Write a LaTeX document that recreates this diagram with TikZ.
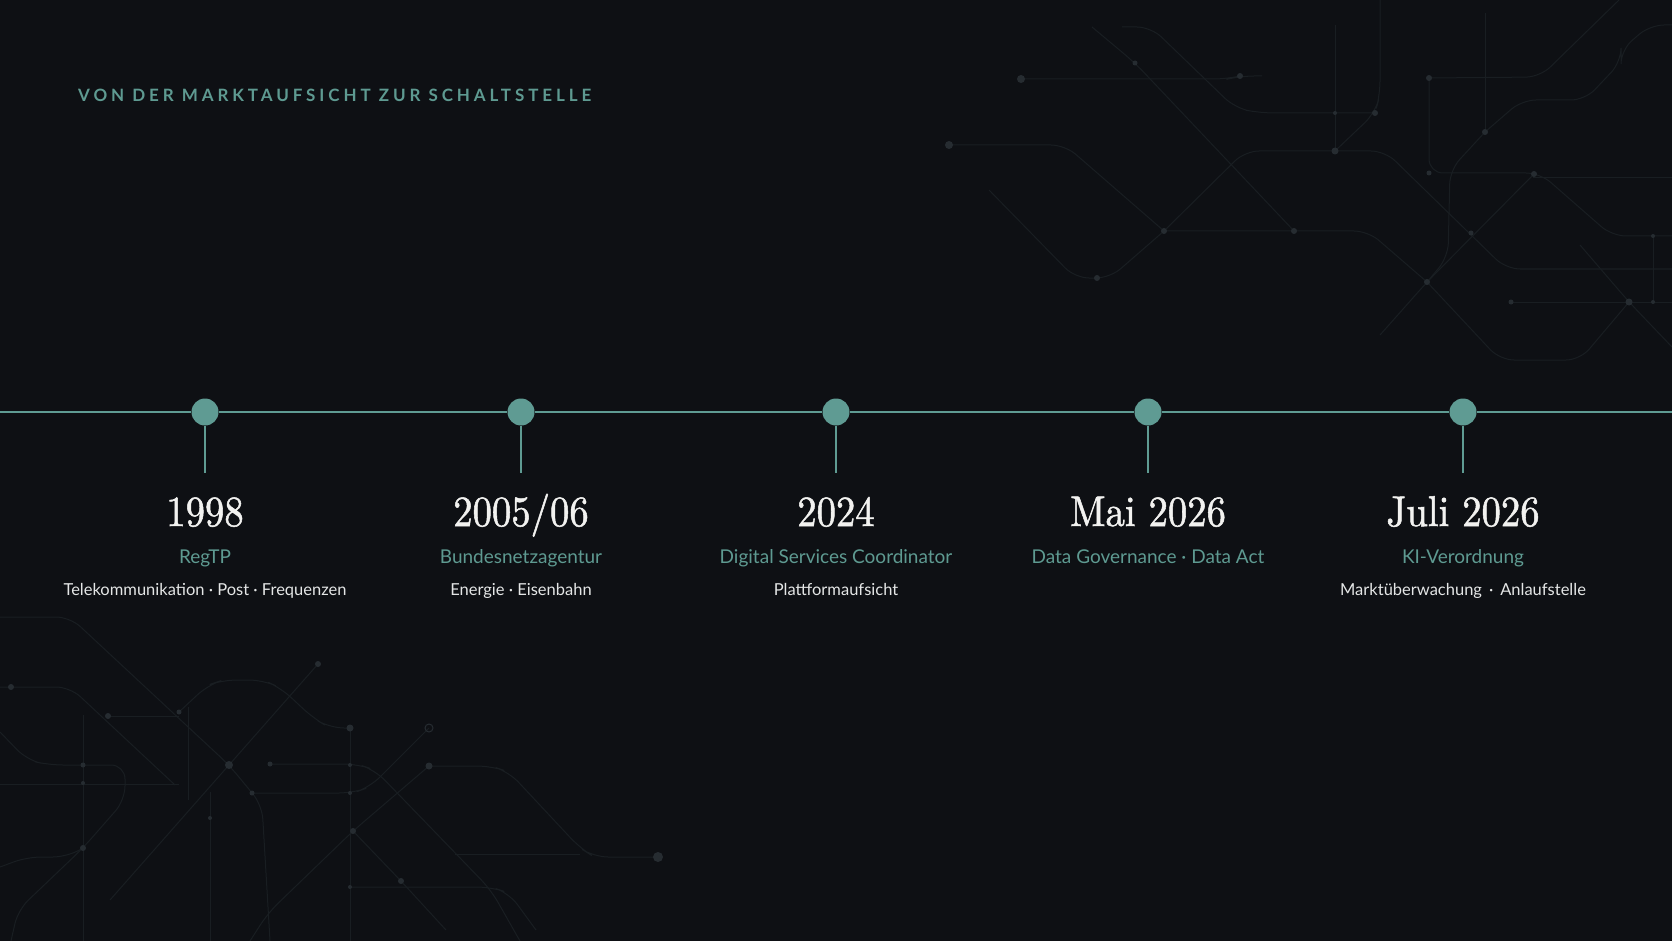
\documentclass[tikz,border=0pt]{standalone}
\usepackage{fontspec}
\newfontfamily\uisans{Lato}
\newfontfamily\titlefont[LetterSpace=23]{Lato}
\newfontfamily\yearfont[Extension=.otf,FakeStretch=0.9,FakeBold=1.2]{lmroman10-regular}
\definecolor{bg}{HTML}{0E1014}
\definecolor{tealc}{HTML}{5F9B93}
\definecolor{tealtxt}{HTML}{5E9A91}
\definecolor{yeartxt}{HTML}{F2F2F0}
\definecolor{desctxt}{HTML}{E4E6E6}
\definecolor{circl}{HTML}{191E22}
\definecolor{circd}{HTML}{262C31}
\tikzset{
  mainline/.style={draw=tealc, line width=1.6pt},
  stemline/.style={draw=tealc, line width=1.6pt},
  evdot/.style={circle, fill=tealc, minimum size=27pt, inner sep=0pt},
  yearlbl/.style={anchor=base, text=yeartxt, font=\yearfont\fontsize{43}{46}\selectfont, inner sep=0pt},
  orglbl/.style={anchor=base, text=tealtxt, font=\uisans\fontsize{19}{22}\selectfont, inner sep=0pt},
  desclbl/.style={anchor=base, text=desctxt, font=\uisans\fontsize{16.5}{19}\selectfont, inner sep=0pt},
  titlelbl/.style={anchor=base west, text=tealtxt, font=\titlefont\bfseries\fontsize{17}{20}\selectfont, inner sep=0pt},
  trace/.style={draw=circl, line width=1pt, rounded corners=14pt},
  pad/.style={circle, fill=circd, inner sep=0pt, minimum size=#1},
  pad/.default=6pt,
}
\begin{document}
\begin{tikzpicture}[x=1pt,y=-1pt]
\fill[bg] (0,0) rectangle (1672,941);
\useasboundingbox (0,0) rectangle (1672,941);

% ---- background traces top-right
\draw[trace] (1021,79) -- (1228,79) -- (1240,76) -- (1262,76);
\draw[trace] (1092,27) -- (1135,63) -- (1294,231);
\draw[trace] (1122,27) -- (1151,27) -- (1235,108) -- (1260,113) -- (1375,113);
\draw[trace] (1335,25) -- (1335,151);
\draw[trace] (1380,0) -- (1380,95) -- (1375,113) -- (1335,151);
\draw[trace] (1335,151) -- (1245,151) -- (1164,231);
\draw[trace] (949,145) -- (1065,145) -- (1164,231);
\draw[trace] (989,190) -- (1075,278) -- (1110,278) -- (1164,231);
\draw[trace] (1164,231) -- (1368,231) -- (1427,282);
\draw[trace] (1335,151) -- (1385,151) -- (1506,269) -- (1672,269);
\draw[trace] (1429,78) -- (1540,77) -- (1619,0);
\draw[trace] (1429,78) -- (1429,173) -- (1540,173) -- (1612,236) -- (1672,236);
\draw[trace] (1533,178) -- (1672,178);
\draw[trace] (1485,13) -- (1485,132);
\draw[trace] (1485,132) -- (1522,100) -- (1585,100) -- (1621,62) -- (1621,50) -- (1650,25) -- (1672,25);
\draw[trace] (1485,132) -- (1450,170) -- (1448,257) -- (1427,282);
\draw[trace] (1534,174) -- (1427,282) -- (1380,335);
\draw[trace] (1427,282) -- (1500,360) -- (1580,360) -- (1629,302);
\draw[trace] (1580,245) -- (1629,302) -- (1672,347);
\draw[trace] (1511,302) -- (1672,302);
\draw[trace] (1653,237) -- (1653,302);
\foreach \p/\s in {(1021,79)/8pt,(1240,76)/6pt,(1135,63)/5pt,(1294,231)/6pt,(1375,113)/6pt,(1335,113)/4pt,(1335,151)/7pt,(1164,231)/6pt,(949,145)/8pt,(1097,278)/6pt,(1427,282)/6pt,(1429,78)/6pt,(1429,173)/5pt,(1534,174)/6pt,(1485,132)/6pt,(1471,233)/5pt,(1629,302)/7pt,(1511,302)/5pt,(1653,302)/4pt,(1653,236)/4pt}
  \node[pad=\s] at \p {};

% ---- background traces bottom-left
\draw[trace] (0,617) -- (70,617) -- (229,765) -- (262,805) -- (270,941);
\draw[trace] (0,687) -- (70,687) -- (175,785);
\draw[trace] (108,716) -- (179,716);
\draw[trace] (0,732) -- (27,760) -- (49,765) -- (125,765) -- (125,800) -- (83,848) -- (18,910) -- (11,941);
\draw[trace] (0,867) -- (27,857) -- (67,857) -- (83,848);
\draw[trace] (83,715) -- (83,941);
\draw[trace] (0,784) -- (179,784);
\draw[trace] (188,707) -- (188,800);
\draw[trace] (179,712) -- (208,685) -- (223,680) -- (263,680) -- (281,688) -- (313,718) -- (330,728) -- (350,728);
\draw[trace] (318,664) -- (229,765) -- (110,900);
\draw[trace] (350,728) -- (350,941);
\draw[trace] (270,764) -- (357,764) -- (375,770) -- (491,890) -- (520,941);
\draw[trace] (252,793) -- (353,793) -- (370,787) -- (429,728);
\draw[trace] (429,766) -- (353,831) -- (268,913) -- (250,941);
\draw[trace] (429,766) -- (491,766) -- (509,772) -- (580,848) -- (594,857) -- (658,857);
\draw[trace] (455,854) -- (580,854);
\draw[trace] (353,831) -- (401,881) -- (446,930);
\draw[trace] (350,887) -- (491,887) -- (509,893) -- (536,930);
\draw[trace] (210,792) -- (210,941);
\foreach \p/\s in {(11,687)/6pt,(108,716)/6pt,(229,765)/8pt,(83,765)/5pt,(83,783)/4pt,(83,848)/6pt,(179,712)/5pt,(318,664)/6pt,(350,728)/7pt,(350,765)/4pt,(350,793)/4pt,(353,831)/6pt,(350,887)/4pt,(270,764)/5pt,(252,793)/5pt,(429,766)/7pt,(401,881)/6pt,(658,857)/10pt,(210,818)/4pt}
  \node[pad=\s] at \p {};
\draw[circd, line width=1pt] (429,728) circle (4pt);

% ---- title
\node[titlelbl] (title) at (78,102) {VON DER MARKTAUFSICHT ZUR SCHALTSTELLE};

% ---- timeline
\coordinate (L) at (0,412);
\coordinate (R) at (1672,412);
\node[evdot] (d1) at (205,412) {};
\node[evdot] (d2) at (521,412) {};
\node[evdot] (d3) at (836,412) {};
\node[evdot] (d4) at (1148,412) {};
\node[evdot] (d5) at (1463,412) {};
\draw[mainline] (L) -- (d1) -- (d2) -- (d3) -- (d4) -- (d5) -- (R);

\foreach \i/\x in {1/205,2/521,3/836,4/1148,5/1463}{
  \coordinate (s\i) at (\x,473);
  \draw[stemline] (d\i) -- (s\i);
}

\node[yearlbl] (y1) at (205,526) {1998};
\node[yearlbl] (y2) at (521,526) {2005/06};
\node[yearlbl] (y3) at (836,526) {2024};
\node[yearlbl] (y4) at (1148,526) {Mai 2026};
\node[yearlbl] (y5) at (1463,526) {Juli 2026};

\node[orglbl] (o1) at (205,563) {RegTP};
\node[orglbl] (o2) at (521,563) {Bundesnetzagentur};
\node[orglbl] (o3) at (836,563) {Digital Services Coordinator};
\node[orglbl] (o4) at (1148,563) {Data Governance · Data Act};
\node[orglbl] (o5) at (1463,563) {KI-Verordnung};

\node[desclbl] (t1) at (205,595) {Telekommunikation · Post · Frequenzen};
\node[desclbl] (t2) at (521,595) {Energie · Eisenbahn};
\node[desclbl] (t3) at (836,595) {Plattformaufsicht};
\node[desclbl] (t5) at (1463,595) {Marktüberwachung \,·\, Anlaufstelle};
\end{tikzpicture}
\end{document}
